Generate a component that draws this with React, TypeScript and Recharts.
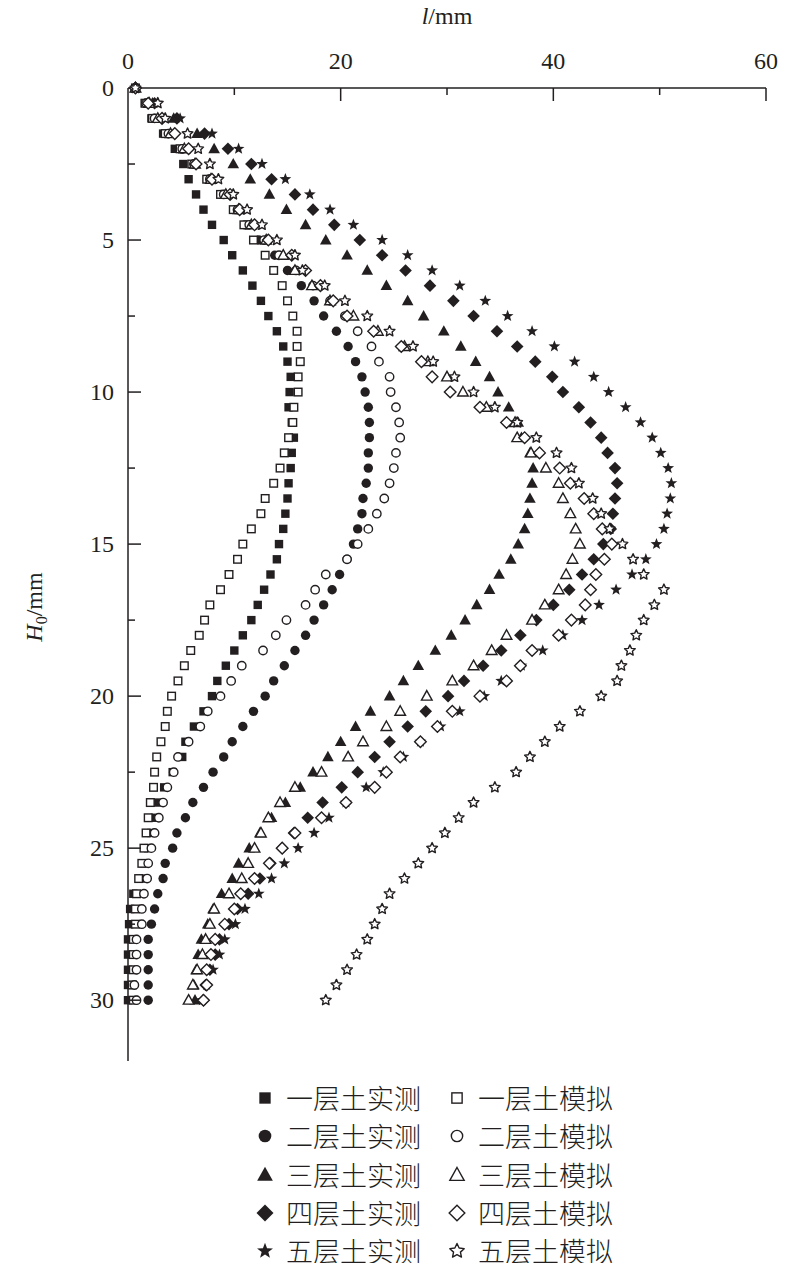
import { ScatterChart, Scatter, XAxis, YAxis } from 'recharts';

// depth H0 (mm) of every measuring row
const depths = [
  0, 0.5, 1, 1.5, 2, 2.5, 3, 3.5, 4, 4.5,
  5, 5.5, 6, 6.5, 7, 7.5, 8, 8.5, 9, 9.5,
  10, 10.5, 11, 11.5, 12, 12.5, 13, 13.5, 14, 14.5,
  15, 15.5, 16, 16.5, 17, 17.5, 18, 18.5, 19, 19.5,
  20, 20.5, 21, 21.5, 22, 22.5, 23, 23.5, 24, 24.5,
  25, 25.5, 26, 26.5, 27, 27.5, 28, 28.5, 29, 29.5,
  30,
];

// displacement l (mm) per layer
const layer1Measured = [
  0.7, 1.6, 2.2, 3.3, 4.4, 5.2, 5.7, 6.4, 7.1, 7.9,
  9.0, 9.8, 10.8, 11.7, 12.5, 13.2, 14.0, 14.6, 15.0, 15.3,
  15.2, 15.1, 15.4, 15.6, 15.4, 15.3, 15.1, 15.0, 14.8, 14.6,
  14.2, 14.0, 13.4, 12.8, 12.2, 11.6, 10.8, 10.0, 9.2, 8.4,
  7.9, 7.1, 6.2, 5.4, 5.1, 4.2, 3.4, 2.7, 2.5, 2.2,
  1.9, 1.5, 1.2, 0.5, 0.2, 0.1, 0, 0, 0, 0,
  0,
];
const layer1Simulated = [
  0.7, 1.6, 2.3, 3.5, 4.9, 6.0, 7.4, 8.7, 9.9, 10.9,
  11.8, 12.9, 13.7, 14.5, 15.0, 15.5, 15.9, 15.9, 16.2, 16.0,
  16.0, 15.6, 15.5, 15.1, 14.7, 14.3, 13.7, 12.9, 12.5, 11.6,
  10.8, 10.3, 9.5, 8.7, 7.7, 7.2, 6.7, 5.9, 5.3, 4.7,
  4.1, 3.7, 3.5, 3.1, 2.7, 2.5, 2.4, 2.1, 1.9, 1.7,
  1.5, 1.3, 1.0, 0.8, 0.7, 0.7, 0.5, 0.5, 0.5, 0.4,
  0.5,
];
const layer2Measured = [
  0.7, 1.7, 2.5, 3.8, 5.1, 6.2, 7.6, 8.8, 10.1, 11.0,
  12.3, 13.8, 15.0, 16.3, 17.5, 18.4, 19.6, 20.7, 21.4, 22.0,
  22.3, 22.6, 22.7, 22.7, 22.6, 22.6, 22.4, 22.1, 22.0, 21.6,
  21.2, 20.6, 19.9, 19.2, 18.4, 17.5, 16.7, 15.7, 14.7, 13.7,
  12.9, 11.8, 10.8, 9.8, 9.0, 8.0, 7.1, 6.1, 5.4, 4.6,
  4.2, 3.5, 3.3, 2.8, 2.5, 2.2, 1.9, 1.9, 1.9, 1.9,
  1.9,
];
const layer2Simulated = [
  0.7, 1.7, 2.5, 3.8, 5.1, 6.2, 7.7, 9.0, 10.3, 11.4,
  12.8, 14.2, 15.8, 17.4, 19.0, 20.4, 21.6, 22.9, 23.6, 24.6,
  24.7, 25.2, 25.5, 25.6, 25.2, 25.0, 24.6, 24.1, 23.4, 22.6,
  21.6, 20.6, 18.6, 17.6, 16.7, 14.9, 13.9, 12.7, 10.7, 9.7,
  8.7, 7.5, 6.8, 5.7, 4.7, 4.3, 3.7, 3.3, 2.9, 2.5,
  2.2, 1.9, 1.8, 1.5, 1.3, 1.3, 0.8, 0.8, 0.8, 0.6,
  0.8,
];
const layer3Measured = [
  0.7, 2.3, 4.3, 6.5, 8.1, 9.9, 11.5, 13.3, 14.9, 16.7,
  18.6, 20.6, 22.5, 24.3, 26.3, 27.8, 29.7, 31.3, 32.7, 34.0,
  34.8, 35.8, 36.7, 37.0, 37.8, 38.1, 38.0, 37.8, 37.6, 37.3,
  36.7, 36.0, 34.9, 34.0, 32.8, 31.7, 30.4, 28.9, 27.3, 25.9,
  24.6, 22.8, 21.4, 20.0, 18.8, 17.4, 16.2, 14.8, 13.5, 12.4,
  11.4, 10.4, 9.8, 8.8, 8.0, 7.5, 6.9, 6.6, 6.4, 6.2,
  6.3,
];
const layer3Simulated = [
  0.7, 2.0, 2.8, 4.0, 5.3, 6.3, 7.8, 9.2, 10.4, 11.6,
  13.0, 14.6, 15.7, 17.3, 19.0, 21.2, 23.5, 26.0, 28.2, 30.0,
  31.5, 33.7, 36.4, 36.6, 37.9, 39.3, 40.5, 40.9, 41.6, 42.1,
  42.5, 41.8, 41.2, 40.5, 39.2, 38.0, 35.6, 34.2, 32.5, 30.5,
  28.1, 25.6, 24.3, 22.1, 20.7, 18.2, 15.7, 14.3, 13.2, 12.5,
  11.9, 11.3, 10.7, 9.5, 8.1, 7.7, 7.3, 7.0, 6.5, 6.1,
  5.7,
];
const layer4Measured = [
  0.7, 2.5, 4.6, 7.2, 9.4, 11.6, 13.5, 15.7, 17.4, 19.4,
  21.8, 23.9, 26.1, 28.4, 30.6, 32.5, 34.7, 36.6, 38.3, 39.9,
  40.9, 42.4, 43.5, 44.5, 45.1, 45.8, 46.0, 45.8, 45.6, 45.4,
  44.7, 43.8, 42.7, 41.5, 40.0, 38.4, 36.9, 35.1, 33.4, 31.6,
  30.1, 28.0, 26.3, 24.6, 23.2, 21.6, 20.1, 18.3, 16.9, 15.6,
  14.5, 13.4, 12.4, 11.3, 10.3, 9.5, 8.6, 8.2, 7.7, 7.3,
  7.1,
];
const layer4Simulated = [
  0.7, 1.9, 3.2, 4.4, 5.7, 6.4, 7.9, 9.6, 10.5, 11.9,
  13.2, 15.4, 16.7, 18.1, 19.3, 20.6, 23.1, 25.7, 27.6, 28.6,
  30.3, 33.1, 35.6, 37.3, 38.7, 40.6, 41.6, 42.9, 43.8, 44.6,
  45.5, 44.8, 44.0, 43.5, 43.0, 41.7, 40.5, 38.0, 36.9, 35.6,
  33.1, 30.5, 29.1, 27.5, 25.6, 24.3, 23.2, 20.5, 18.2, 15.7,
  14.5, 13.3, 11.9, 10.6, 10.0, 9.1, 8.2, 7.8, 7.4, 7.4,
  7.1,
];
const layer5Measured = [
  0.7, 2.8, 4.9, 7.9, 10.4, 12.6, 14.8, 17.1, 19.0, 21.2,
  23.9, 26.3, 28.6, 31.2, 33.6, 35.7, 38.0, 40.1, 42.0, 43.8,
  45.2, 46.8, 48.2, 49.3, 50.1, 50.8, 51.1, 51.0, 50.7, 50.4,
  49.7, 48.7, 47.4, 45.9, 44.3, 42.7, 40.9, 39.0, 37.0, 35.1,
  33.5, 31.2, 29.4, 27.5, 25.9, 24.0, 22.4, 20.5, 18.9, 17.5,
  16.0, 14.7, 13.5, 12.3, 11.0, 10.1, 9.1, 8.6, 8.0, 7.4,
  7.0,
];
const layer5Simulated = [
  0.7, 2.8, 3.5, 5.6, 6.6, 7.7, 8.5, 9.9, 11.2, 12.6,
  14.0, 15.7, 16.4, 18.5, 20.4, 22.5, 24.6, 26.8, 28.7, 30.7,
  32.5, 34.5, 36.6, 38.4, 40.3, 41.7, 42.4, 43.7, 44.5, 45.3,
  46.5, 47.5, 48.5, 50.4, 49.5, 48.5, 47.8, 47.2, 46.4, 46.0,
  44.5, 42.5, 40.6, 39.2, 37.8, 36.5, 34.5, 32.5, 31.1, 29.8,
  28.6, 27.3, 26.0, 24.6, 23.9, 23.2, 22.5, 21.5, 20.6, 19.6,
  18.6,
];

const xTicks = [0, 10, 20, 30, 40, 50, 60];
const yTicks = [0, 2.5, 5, 7.5, 10, 12.5, 15, 17.5, 20, 22.5, 25, 27.5, 30];

const INK = '#231f20';
const SERIF = "'Liberation Serif', 'Times New Roman', Times, serif";
const CJK = "'Noto Sans CJK SC', sans-serif";

type Kind = 'square' | 'circle' | 'triangle' | 'diamond' | 'star';

interface SeriesDef {
  name: string;
  values: number[];
  kind: Kind;
  filled: boolean;
}

const measured: SeriesDef[] = [
  { name: '一层土实测', values: layer1Measured, kind: 'square', filled: true },
  { name: '二层土实测', values: layer2Measured, kind: 'circle', filled: true },
  { name: '三层土实测', values: layer3Measured, kind: 'triangle', filled: true },
  { name: '四层土实测', values: layer4Measured, kind: 'diamond', filled: true },
  { name: '五层土实测', values: layer5Measured, kind: 'star', filled: true },
];
const simulated: SeriesDef[] = [
  { name: '一层土模拟', values: layer1Simulated, kind: 'square', filled: false },
  { name: '二层土模拟', values: layer2Simulated, kind: 'circle', filled: false },
  { name: '三层土模拟', values: layer3Simulated, kind: 'triangle', filled: false },
  { name: '四层土模拟', values: layer4Simulated, kind: 'diamond', filled: false },
  { name: '五层土模拟', values: layer5Simulated, kind: 'star', filled: false },
];

function toPoints(values: number[]) {
  return depths.map((h, i) => ({ h, l: values[i] }));
}

function starPoints(cx: number, cy: number, outer: number, inner: number) {
  const pts: string[] = [];
  for (let i = 0; i < 10; i++) {
    const r = i % 2 === 0 ? outer : inner;
    const a = -Math.PI / 2 + (i * Math.PI) / 5;
    pts.push(`${cx + r * Math.cos(a)},${cy + r * Math.sin(a)}`);
  }
  return pts.join(' ');
}

function Marker({ cx, cy, kind, filled, scale = 1 }: { cx: number; cy: number; kind: Kind; filled: boolean; scale?: number }) {
  if (cx == null || cy == null) return null;
  const fill = filled ? INK : '#fff';
  const stroke = filled ? 'none' : INK;
  const sw = filled ? 0 : 1.4;
  const s = scale;
  switch (kind) {
    case 'square': {
      const h = (filled ? 4.2 : 3.8) * s;
      return <rect x={cx - h} y={cy - h} width={2 * h} height={2 * h} fill={fill} stroke={stroke} strokeWidth={sw} />;
    }
    case 'circle':
      return <circle cx={cx} cy={cy} r={(filled ? 4.7 : 4.2) * s} fill={fill} stroke={stroke} strokeWidth={sw} />;
    case 'triangle': {
      const w = (filled ? 5.8 : 5.3) * s;
      const pts = `${cx},${cy - 1.05 * w} ${cx + w},${cy + 0.75 * w} ${cx - w},${cy + 0.75 * w}`;
      return <polygon points={pts} fill={fill} stroke={stroke} strokeWidth={sw} strokeLinejoin="miter" />;
    }
    case 'diamond': {
      const d = (filled ? 6.3 : 5.8) * s;
      const pts = `${cx},${cy - d} ${cx + d},${cy} ${cx},${cy + d} ${cx - d},${cy}`;
      return <polygon points={pts} fill={fill} stroke={stroke} strokeWidth={sw} />;
    }
    case 'star': {
      const o = (filled ? 6.2 : 5.6) * s;
      const pts = starPoints(cx, cy, o, o * (filled ? 0.42 : 0.48));
      return <polygon points={pts} fill={fill} stroke={stroke} strokeWidth={sw} strokeLinejoin="round" />;
    }
  }
  return null;
}

function XTick(props: any) {
  const { x, y, payload } = props;
  const major = payload.value % 20 === 0;
  return (
    <g>
      {payload.value !== 0 && (
        <line x1={x} y1={y} x2={x} y2={y + (major ? 13 : 7)} stroke={INK} strokeWidth={1.5} />
      )}
      {major && (
        <text x={x} y={y - 19} textAnchor="middle" style={{ fontFamily: SERIF }} fontSize={24} fill={INK}>
          {payload.value}
        </text>
      )}
    </g>
  );
}

function YTick(props: any) {
  const { x, y, payload } = props;
  const major = payload.value % 5 === 0;
  return (
    <g>
      {payload.value !== 0 && (
        <line x1={x} y1={y} x2={x + (major ? 13 : 7)} y2={y} stroke={INK} strokeWidth={1.5} />
      )}
      {major && (
        <text x={x - 14} y={y + 8} textAnchor="end" style={{ fontFamily: SERIF }} fontSize={24} fill={INK}>
          {payload.value}
        </text>
      )}
    </g>
  );
}

const legendRowTop = 1075;
const legendRowStep = 38.3;

function LegendItem({ def, left, top }: { def: SeriesDef; left: number; top: number }) {
  return (
    <div style={{ position: 'absolute', left, top, height: 30, display: 'flex', alignItems: 'center' }}>
      <svg width={24} height={24} style={{ display: 'block' }}>
        <Marker cx={12} cy={12} kind={def.kind} filled={def.filled} scale={1.35} />
      </svg>
      <span
        style={{
          marginLeft: 9,
          fontFamily: CJK,
          fontWeight: 300,
          fontSize: 27,
          lineHeight: '30px',
          color: INK,
          whiteSpace: 'nowrap',
        }}
      >
        {def.name}
      </span>
    </div>
  );
}

export default function App() {
  return (
    <div style={{ position: 'relative', width: 784, height: 1255 }}>
      <ScatterChart width={784} height={1255} margin={{ top: 0, right: 26, bottom: 202, left: 0 }}>
        <XAxis
          type="number"
          dataKey="l"
          orientation="top"
          domain={[0, 60]}
          ticks={xTicks}
          interval={0}
          height={80}
          tickSize={0}
          tickMargin={0}
          tickLine={false}
          axisLine={{ stroke: INK, strokeWidth: 1.5 }}
          tick={<XTick />}
        />
        <YAxis
          type="number"
          dataKey="h"
          reversed
          domain={[0, 32]}
          ticks={yTicks}
          interval={0}
          width={120}
          tickSize={0}
          tickMargin={0}
          tickLine={false}
          axisLine={{ stroke: INK, strokeWidth: 1.5 }}
          tick={<YTick />}
        />
        {[...measured, ...simulated].map((def) => (
          <Scatter
            key={def.name}
            name={def.name}
            data={toPoints(def.values)}
            isAnimationActive={false}
            shape={(p: any) => <Marker cx={p.cx} cy={p.cy} kind={def.kind} filled={def.filled} />}
          />
        ))}
      </ScatterChart>

      <div
        style={{
          position: 'absolute',
          left: 120,
          width: 638,
          top: -4,
          textAlign: 'center',
          fontFamily: SERIF,
          fontSize: 24,
          lineHeight: '24px',
          color: INK,
        }}
      >
        <i>l</i>/mm
      </div>
      <div
        style={{
          position: 'absolute',
          left: 30,
          top: 599,
          transform: 'translate(-50%, -50%) rotate(-90deg)',
          fontFamily: SERIF,
          fontSize: 24,
          lineHeight: '24px',
          color: INK,
          whiteSpace: 'nowrap',
        }}
      >
        <i>H</i>
        <sub style={{ fontSize: 16 }}>0</sub>/mm
      </div>

      {measured.map((def, i) => (
        <LegendItem key={def.name} def={def} left={245} top={legendRowTop + i * legendRowStep} />
      ))}
      {simulated.map((def, i) => (
        <LegendItem key={def.name} def={def} left={437} top={legendRowTop + i * legendRowStep} />
      ))}
    </div>
  );
}
